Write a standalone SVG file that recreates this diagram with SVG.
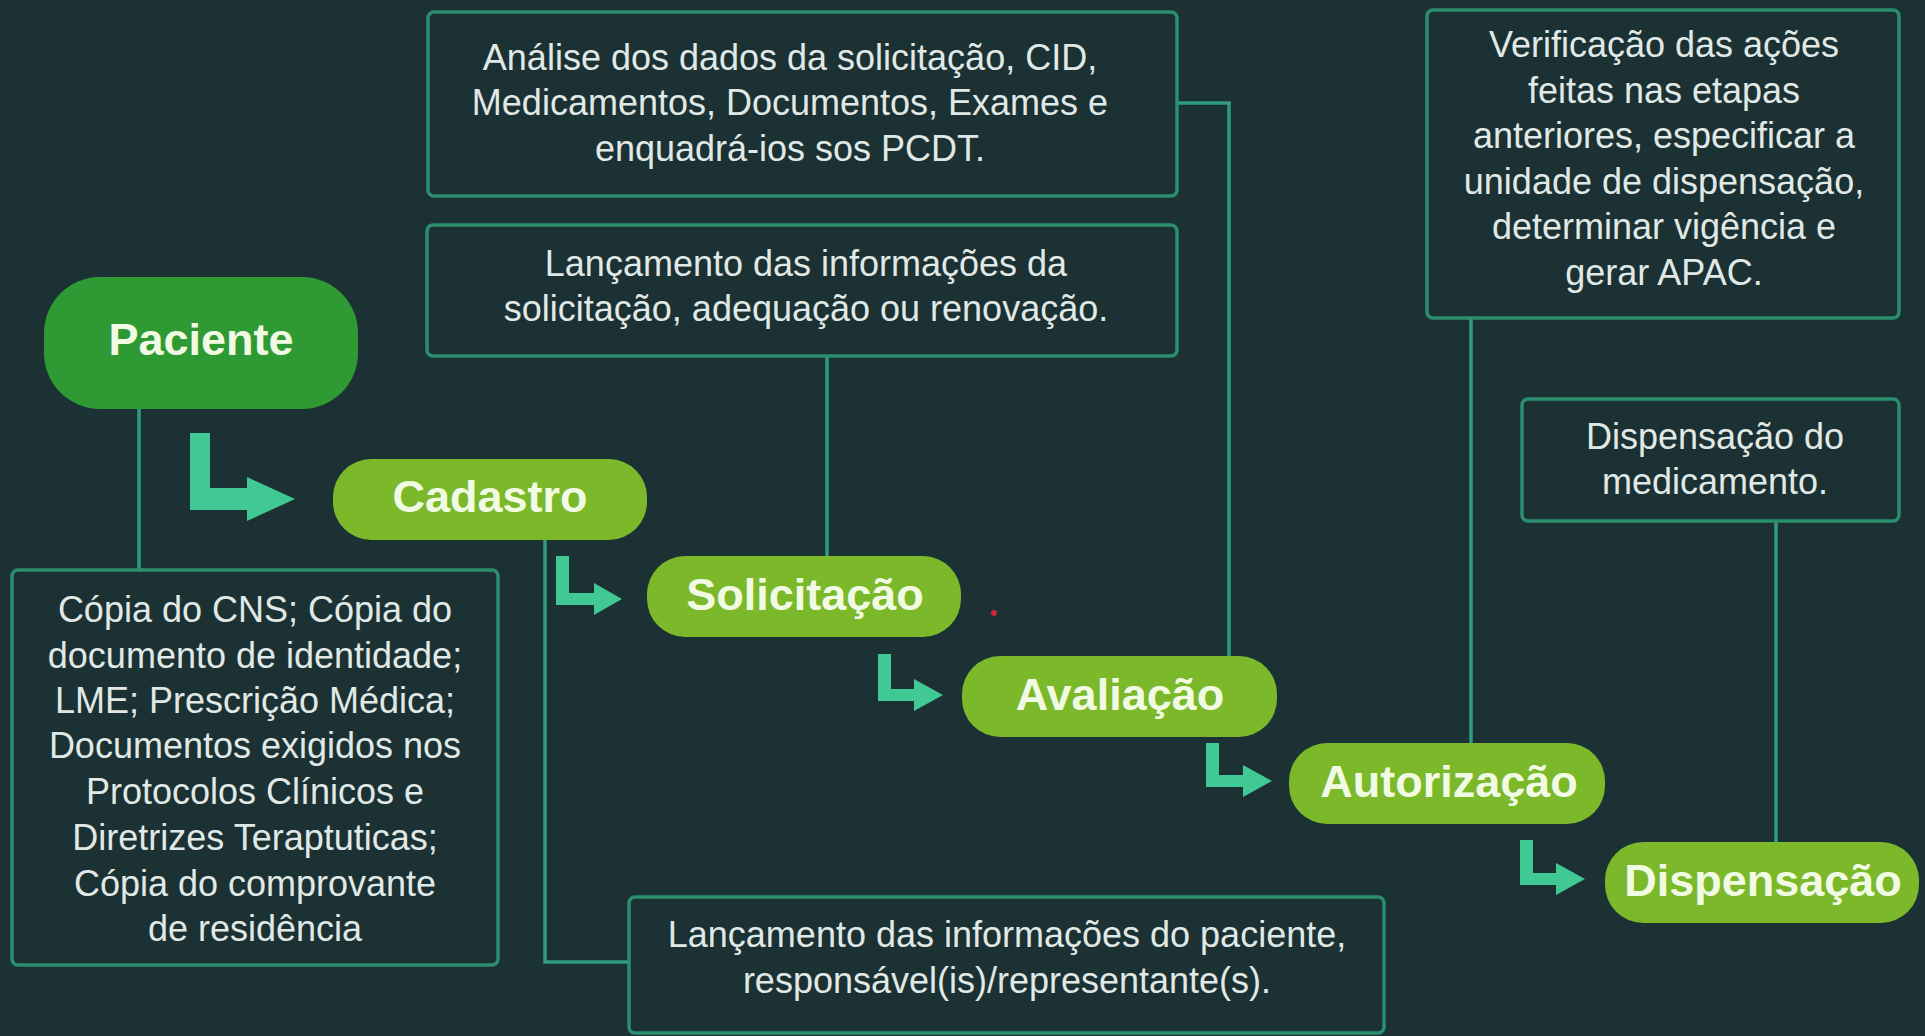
<svg xmlns="http://www.w3.org/2000/svg" width="1925" height="1036" viewBox="0 0 1925 1036">
<style>
.bg{fill:#1b3134}
.box{fill:#1b3134;stroke:#2b8e6f;stroke-width:3.5}
.pill{fill:#7bb82a}
.pill0{fill:#2f9a33}
.pt{font-family:"Liberation Sans",Arial,sans-serif;font-weight:bold;font-size:45px;fill:#f1fbe4;text-anchor:middle}
.bt{font-family:"Liberation Sans",Arial,sans-serif;font-size:36px;fill:#e1e9e6;text-anchor:middle}
.ln{fill:none;stroke:#2f9c7d;stroke-width:3.5}
.ar{fill:#40c995}
</style>
<rect class="bg" x="0" y="0" width="1925" height="1036"/>

<g id="connectors">
  <path class="ln" d="M139 409 V570"/>
  <path class="ln" d="M545 540 V962 H629"/>
  <path class="ln" d="M827 356 V556"/>
  <path class="ln" d="M1177 103 H1229 V656"/>
  <path class="ln" d="M1471 318 V743"/>
  <path class="ln" d="M1776 521 V842"/>
  <path class="ar" d="M190 433 H210 V488 H247 V477 L295 499 L247 521 V510 H190 Z"/>
  <path class="ar" d="M556 556 H569 V593 H594 V583 L622 599 L594 615 V605 H556 Z"/>
  <path class="ar" d="M878 654 H891 V689 H914 V679 L943 695 L914 711 V701 H878 Z"/>
  <path class="ar" d="M1206 743 H1219 V775 H1243 V765 L1272 781 L1243 797 V787 H1206 Z"/>
  <path class="ar" d="M1520 840 H1533 V873 H1556 V863 L1585 879 L1556 895 V885 H1520 Z"/>
</g>

<g id="paciente">
  <rect class="pill0" x="44" y="277" width="314" height="132" rx="56"/>
  <text class="pt" x="201" y="355">Paciente</text>
</g>
<g id="cadastro">
  <rect class="pill" x="333" y="459" width="314" height="81" rx="38"/>
  <text class="pt" x="490" y="512">Cadastro</text>
</g>
<g id="solicitacao">
  <rect class="pill" x="647" y="556" width="314" height="81" rx="38"/>
  <text class="pt" x="805" y="610">Solicitação</text>
</g>
<g id="avaliacao">
  <rect class="pill" x="962" y="656" width="315" height="81" rx="38"/>
  <text class="pt" x="1120" y="710">Avaliação</text>
</g>
<g id="autorizacao">
  <rect class="pill" x="1289" y="743" width="316" height="81" rx="38"/>
  <text class="pt" x="1449" y="797">Autorização</text>
</g>
<g id="dispensacao">
  <rect class="pill" x="1605" y="842" width="314" height="81" rx="38"/>
  <text class="pt" x="1763" y="896">Dispensação</text>
</g>

<g id="box-analise">
  <rect class="box" x="428" y="12" width="749" height="184" rx="6"/>
  <text class="bt" x="790" y="70">Análise dos dados da solicitação, CID,</text>
  <text class="bt" x="790" y="115">Medicamentos, Documentos, Exames e</text>
  <text class="bt" x="790" y="161">enquadrá-ios sos PCDT.</text>
</g>
<g id="box-lancamento-solicitacao">
  <rect class="box" x="427" y="225" width="750" height="131" rx="6"/>
  <text class="bt" x="806" y="276">Lançamento das informações da</text>
  <text class="bt" x="806" y="321">solicitação, adequação ou renovação.</text>
</g>
<g id="box-verificacao">
  <rect class="box" x="1427" y="10" width="472" height="308" rx="6"/>
  <text class="bt" x="1664" y="57">Verificação das ações</text>
  <text class="bt" x="1664" y="103">feitas nas etapas</text>
  <text class="bt" x="1664" y="148">anteriores, especificar a</text>
  <text class="bt" x="1664" y="194">unidade de dispensação,</text>
  <text class="bt" x="1664" y="239">determinar vigência e</text>
  <text class="bt" x="1664" y="285">gerar APAC.</text>
</g>
<g id="box-dispensacao">
  <rect class="box" x="1522" y="399" width="377" height="122" rx="6"/>
  <text class="bt" x="1715" y="449">Dispensação do</text>
  <text class="bt" x="1715" y="494">medicamento.</text>
</g>
<g id="box-documentos">
  <rect class="box" x="12" y="570" width="486" height="395" rx="6"/>
  <text class="bt" x="255" y="622">Cópia do CNS; Cópia do</text>
  <text class="bt" x="255" y="668">documento de identidade;</text>
  <text class="bt" x="255" y="713">LME; Prescrição Médica;</text>
  <text class="bt" x="255" y="758">Documentos exigidos nos</text>
  <text class="bt" x="255" y="804">Protocolos Clínicos e</text>
  <text class="bt" x="255" y="850">Diretrizes Teraptuticas;</text>
  <text class="bt" x="255" y="896">Cópia do comprovante</text>
  <text class="bt" x="255" y="941">de residência</text>
</g>
<g id="box-lancamento-paciente">
  <rect class="box" x="629" y="897" width="755" height="136" rx="6"/>
  <text class="bt" x="1007" y="947">Lançamento das informações do paciente,</text>
  <text class="bt" x="1007" y="993">responsável(is)/representante(s).</text>
</g>
<circle cx="994" cy="613" r="3" fill="#d0243c"/>
</svg>
